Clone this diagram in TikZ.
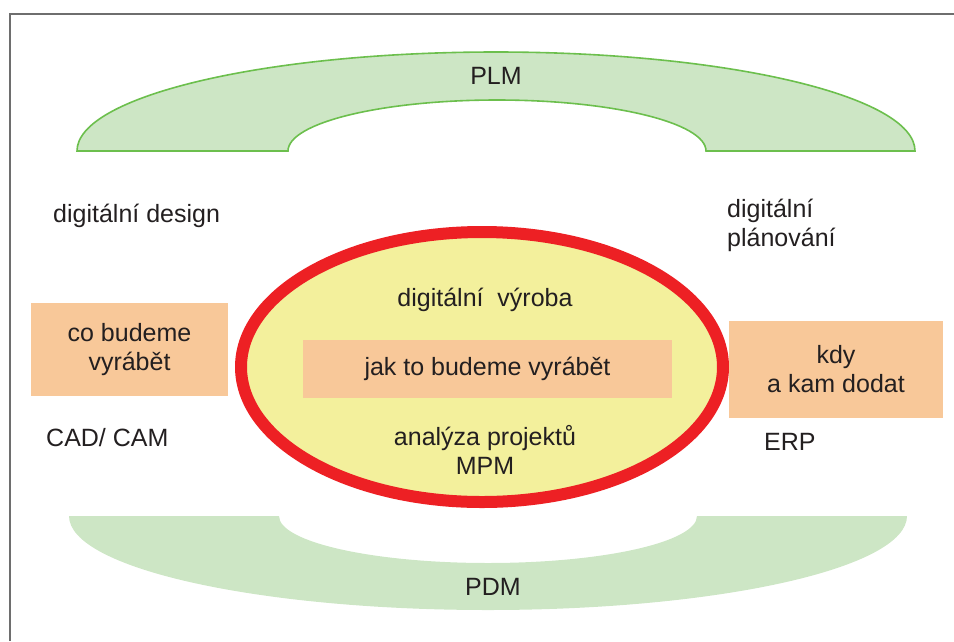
\documentclass[tikz,border=0pt]{standalone}
\usepackage{fontspec}
\setmainfont{Liberation Sans}
\definecolor{armfill}{HTML}{CDE6C5}
\definecolor{armline}{HTML}{6CBF4D}
\definecolor{ovred}{HTML}{ED2024}
\definecolor{ovyellow}{HTML}{F3F09C}
\definecolor{boxorange}{HTML}{F8C899}
\definecolor{txt}{HTML}{231F20}
\definecolor{framegray}{HTML}{6E6E6E}
\begin{document}
\begin{tikzpicture}[x=1pt,y=-1pt,
  every node/.style={inner sep=0pt, text=txt, font=\fontsize{25}{29}\selectfont},
  obox/.style={fill=boxorange, draw=none, align=center},
  lbl/.style={align=center},
  plmarch/.style={fill=armfill, draw=armline, line width=1.6pt},
  pdmarch/.style={fill=armfill, draw=none}]
\useasboundingbox (0,0) rectangle (954,641);
% frame
\draw[framegray, line width=1.6pt] (10,641) -- (10,14) -- (954,14);
% PLM arch
\draw[plmarch] (77,151) arc[start angle=180, end angle=360, x radius=419, y radius=99]
  -- (706,151) arc[start angle=0, end angle=-180, x radius=209, y radius=51] -- cycle;
\node (plm) at (496,76) {PLM};
% PDM arch
\fill[pdmarch] (69,516) arc[start angle=180, end angle=0, x radius=419, y radius=94]
  -- (697,516) arc[start angle=0, end angle=180, x radius=209, y radius=47] -- cycle;
\node (pdm) at (493,587) {PDM};
% central ellipse
\draw[ovred, fill=ovyellow, line width=12pt] (482,367) ellipse [x radius=241, y radius=135];
\node[lbl] (vyroba) at (485,300) {digitální~~výroba};
\node[obox, minimum width=369pt, minimum height=58pt] (jak) at (487.5,369) {jak to budeme vyrábět};
\node[lbl] (mpm) at (485,450) {analýza projektů\\MPM};
% left side
\node[anchor=west] (design) at (53,216) {digitální design};
\node[obox, minimum width=197pt, minimum height=93pt] (co) at (129.5,349.5) {co budeme\\vyrábět};
\node[anchor=west] (cad) at (46,438) {CAD/ CAM};
% right side
\node[anchor=west, align=left] (plan) at (727,225) {digitální\\plánování};
\node[obox, minimum width=214pt, minimum height=97pt] (kdy) at (836,369.5) {kdy\\a kam dodat};
\node[anchor=west] (erp) at (764,442) {ERP};
\end{tikzpicture}
\end{document}
